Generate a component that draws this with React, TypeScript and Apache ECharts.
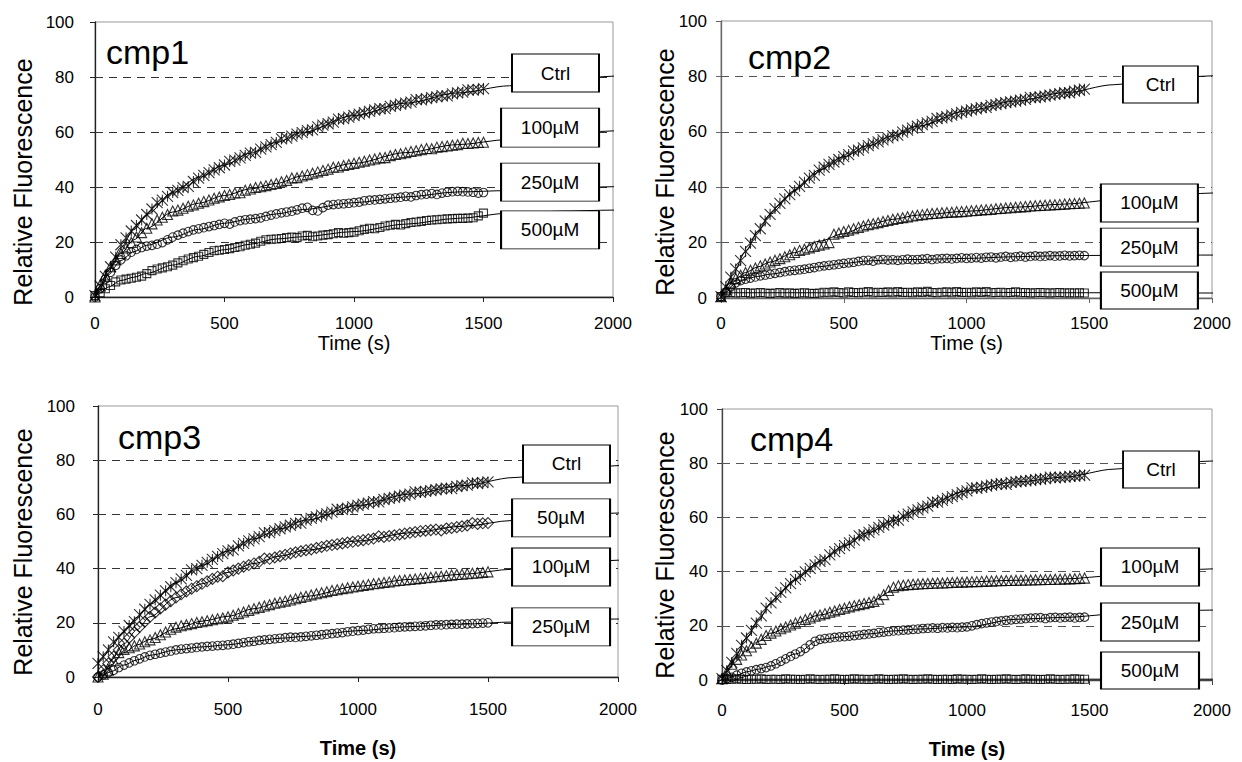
import React, { useEffect, useRef } from "react";
import * as echarts from "echarts";

// ---------- sampling times (s) ----------
const T = [0,20,40,60,80,100,120,140,160,180,200,220,240,260,280,300,320,340,360,380,400,420,440,460,480,500,520,540,560,580,600,620,640,660,680,700,720,740,760,780,800,820,840,860,880,900,920,940,960,980,1000,1020,1040,1060,1080,1100,1120,1140,1160,1180,1200,1220,1240,1260,1280,1300,1320,1340,1360,1380,1400,1420,1440,1460,1480,1500];
const FIT_T = [0,20,50,100,150,200,300,400,500,600,700,800,1000,1200,1400,1600,1800,2000,2030];
const GRID_LEVELS = [20, 40, 60, 80];
const X_TICKS = [0, 500, 1000, 1500, 2000];

// ---------- cmp1 ----------
const P1_LABELS = ["Ctrl", "100µM", "250µM", "500µM"];
const P1_CTRL = [0.5,4,7.5,11,14.5,19,21.5,24,26,28,30,32,34.3,35.2,36.6,38,38.8,39.8,40.2,42,43.2,44.2,45.2,46.2,47,48,49.3,49.8,50.6,51.5,52.3,52.6,53.8,54.6,55.4,56.2,57.5,57.8,58.5,59.2,59.8,60.5,60.8,61.9,62.5,63,63.6,64.7,64.9,65.4,66,66.5,67,67.5,68,68.5,68.5,69.3,69.7,70.1,70.5,70.9,71.8,71.7,72.1,72.5,72.8,73.2,73.1,73.9,74.2,74.5,75.3,75.2,75.5,75.8];
const P1_100 = [0,4.5,8,11,13.5,15.8,17.8,19.8,21.8,23.4,25,26.6,28,29,30,31.3,31.6,32.3,33,33.5,34.1,34.7,35.3,35.9,36.4,36.9,37.3,37.8,37.9,38.8,39.3,39.8,40.1,40.5,40.9,41.3,41.9,42.4,43.3,43.4,44,44.5,45,45.5,46,46.5,47.2,47.3,47.8,48.2,48.6,49,49.4,49.8,50.2,50.6,50.7,51.4,51.8,52.1,52.5,52.9,53.2,53.6,54,53.9,54.5,54.7,54.9,55.2,55.4,55.9,55.8,56,56.2,56.3];
const P1_250 = [0,3,6.5,9,11.5,13.5,15,16.3,17.3,18,18.5,18.8,19.2,19.8,20.8,21.8,22.5,23.2,23.8,24.4,24.8,25.2,25.6,26,26.4,26.8,26.5,27.3,27.8,28.1,28.3,28.5,28.8,29.3,29.8,30.2,30.6,30.9,31.2,31.7,32.3,32.6,31.5,31.3,32.5,33.4,33.6,33.8,33.9,34.1,34.3,34.5,35,35.2,35.3,35.5,35.7,35.9,36.1,36.3,36.6,36.4,36.9,37.2,37.4,37.6,37.3,37.8,38.1,38.3,38.4,38.3,38.2,38.1,37.8,38];
const P1_500 = [0.5,1.5,3,4.2,5.5,6.2,6.5,6.8,7.2,7.6,8.5,9.6,10.2,10.6,11,11.6,12.4,13.2,13.8,14.3,14.8,15.5,16.2,16.8,17,17.3,17.6,18,18.3,18.8,19.2,19.6,20.3,20.8,21,21.1,21.3,21.6,21.8,21.6,22.2,22.4,21.9,22.2,22.5,22.7,23,23.4,23.2,23.4,23.6,24.1,24.6,25,24.8,25.3,25.8,26.1,26.4,26.2,26.7,27.1,27.3,27.5,27.8,28,28.1,28.3,28.4,28.5,28.6,28.6,28.7,28.8,29.5,30.5];
const P1_CTRL_FIT = [0,4,9.5,18,24.5,30,38,43.5,48,52.3,56.2,59.8,66,70.5,74.2,76.8,78.8,80.3,80.5];
const P1_100_FIT = [0,4,9.5,15.8,20.8,25,30.9,34.1,36.9,39.3,41.3,44,48.6,52.5,55.4,57.3,59.1,60.4,60.5];
const P1_250_FIT = [0,3,8,13.3,16.5,18.8,21.8,24.6,26.8,28.4,30.2,31.8,34.3,36.4,38.2,38.7,39.5,40.1,40.2];
const P1_500_FIT = [0,1.5,3.6,6,7.2,8.6,11.6,14.8,17.2,19.2,21.1,21.9,23.8,26.5,28.6,30.5,31.2,31.6,31.6];

// ---------- cmp2 ----------
const P2_LABELS = ["Ctrl", "100µM", "250µM", "500µM"];
const P2_CTRL = [0.5,4,7.5,10.5,13.5,16.8,19.8,22.5,25,27.8,30.2,32.3,34.2,35.8,37.3,38.8,40.3,41.8,43.3,44.3,46.2,47.2,48.2,49.1,50,51,51.8,53,53.4,54.2,55,55.7,56.4,57.1,57.8,58.5,58.8,59.9,60.6,61.3,62,62.6,63.2,63.8,64.8,65,65.5,66,66.5,67,67.5,67.9,68.3,68.7,68.8,69.5,69.8,70.2,70.5,70.8,71.1,71.4,71.7,72.4,72.3,72.6,72.9,73.2,73.5,73.8,74.1,74.1,74.7,75,75.4];
const P2_100 = [0.5,3,5.5,7,8.2,9.2,10,10.8,11.6,12.3,13,13.6,14.2,14.9,15.6,16.4,17.2,17.6,18.1,18.6,19.1,19.5,20,23,23.5,24,24.5,25,25.5,26,26.5,26.8,27.2,27.6,28,28.4,28.7,29,29.3,29.6,29.9,30.1,30.3,30.5,30.6,30.8,30.9,31,31.1,31.2,31.3,31.5,31.6,31.8,31.9,32,32.2,32.3,32.5,32.6,32.8,32.9,33,33.2,33.3,33.4,33.5,33.6,33.7,33.8,33.9,34,34.1,34.2,34.3];
const P2_250 = [0.5,2,4,5.5,6.3,6.8,7.2,7.6,8,8.3,8.6,8.9,9.2,9.5,9.8,10,10.2,10.4,10.7,11,11.3,11.6,11.8,12,12.2,12.5,12.7,12.9,13.2,13.5,13.6,13.3,13.8,13.9,13.7,13.8,13.6,13.8,14,13.8,13.9,14,14.2,13.9,14.1,14.2,14.3,14.1,14.3,14.5,14.3,14.4,14.6,14.4,14.7,14.8,14.5,14.8,15,14.7,14.9,15.1,14.8,15,15.2,15,15.1,15.3,15.1,15.2,15.4,15.2,15.3,15.4,15.3];
const P2_500 = [0.5,1.8,2,1.8,1.9,2,1.7,1.8,2,1.8,1.6,1.8,2,1.7,1.9,1.6,1.8,1.9,1.7,1.6,1.8,2.1,1.9,2.2,2,1.8,2.2,2,1.9,2.1,2.3,1.9,2.1,2,2.2,1.9,2.3,2,2.1,1.9,2.2,2,2.4,2,1.9,2.1,2.2,1.9,2.3,2,2.1,1.9,2.2,2,2.3,1.9,2,2.1,1.9,2,2.2,1.9,2,1.8,1.9,2,1.9,1.8,1.9,2,1.8,1.9,1.8,1.9,1.8];
const P2_CTRL_FIT = [0,4,9,16.8,24,30.2,38.8,46.2,51,55,58.5,62,67.5,71.1,74.1,77,79,80.2,80.3];
const P2_100_FIT = [0,3,6,9.2,11.2,13,16.4,20.5,23.2,26.5,28.4,29.9,31.3,32.8,33.9,35.4,36.8,37.9,38];
const P2_250_FIT = [0,2,4.8,6.8,7.8,8.6,10,11.3,12.5,13.4,13.8,13.9,14.3,14.9,15.3,15.4,15.5,15.5,15.5];
const P2_500_FIT = [0.5,1.8,1.9,1.9,1.9,1.9,1.9,1.9,1.9,2,2,2,2,2,1.9,1.9,1.8,1.8,1.8];

// ---------- cmp3 ----------
const P3_LABELS = ["Ctrl", "50µM", "100µM", "250µM"];
const P3_CTRL = [5,7.5,10,13,14.6,16.8,19,20.4,23,25,26.8,28.5,30.2,31.8,33.3,34.8,36.2,37.5,39.5,40,41.2,42.3,43.4,44.5,45.5,46.5,46.9,48.4,49.3,50.2,51,51.8,53.2,53.3,54,54.7,55.4,56,56.7,56.8,57.9,58.5,59.1,59.7,60.2,60.8,61.9,61.8,62.3,62.8,63.3,63.8,64.2,64.7,64.6,65.5,65.9,66.3,66.7,67.1,67.5,68.3,68.1,68.5,68.8,69.1,69.4,69.7,69.5,70.3,70.6,70.8,71.6,71.4,71.7,72];
const P3_50 = [0,2.5,5,7.5,10,12.3,14.5,16.5,18.5,20.4,22.2,23.8,25.3,26.7,28,29.3,30.5,31.6,32.6,33.5,34.4,35.3,36.2,37,37.2,38.6,39.3,40,40.7,41.3,41.9,42.5,43.7,43.6,44.1,44.6,45.1,45.6,46,46.4,46.8,47.1,47.6,48,48.4,48.7,49,49.3,49.6,49.9,50.2,50.5,50.8,51.1,51.9,51.7,52,52.3,52.6,52.9,53.2,53.5,53.8,54,54.2,54.4,54.1,54.8,55,55.3,55.6,55.9,56.8,56.5,56.7,56.8];
const P3_100 = [0,1,2.5,6,9,10.2,10.8,11.5,12.2,13,13.7,14.6,15.6,16.6,17.6,18.4,18.9,19.3,19.7,20.1,20.4,20.8,21.1,21.5,21.8,22.2,22.8,23.4,24,24.6,25.2,25.7,26.2,26.7,27.2,27.6,28,28.4,28.9,29.4,29.8,30.3,30.7,31.1,31.5,31.9,32.2,32.6,32.9,33.2,33.5,33.8,34.1,34.4,34.6,34.9,35.1,35.4,35.6,35.8,36,36.2,36.4,36.6,36.8,37,37.2,37.4,37.6,37.8,37.9,38.1,38.3,38.4,38.6,38.8];
const P3_250 = [0,0.8,1.6,2.5,3.5,4.4,5.2,6,6.7,7.4,8,8.4,8.8,9.2,9.6,10,10.3,10.5,10.7,10.9,11.1,11.3,11.4,11.6,11.7,11.9,12.1,12.4,12.7,13,13.2,13.5,13.7,13.9,14.1,14.3,14.5,14.7,14.6,14.8,15,15.2,15.4,15.6,15.8,16,16.2,16.4,16.7,16.9,17.1,17.3,17.6,17.8,17.9,18,18.1,18.2,18.4,18.5,18.6,18.7,18.8,18.9,19.1,19.2,19.2,19.3,19.4,19.5,19.5,19.6,19.7,19.8,19.9,20];
const P3_CTRL_FIT = [5,7.5,11.2,16.8,22,26.8,34.8,41.2,46.5,51,54.7,57.9,63.3,67.5,70.6,73.6,76.3,78,78.2];
const P3_50_FIT = [0,2.5,6.2,12.3,17.5,22.2,29.3,34.4,38.6,41.9,44.6,46.8,50.2,53.2,55.6,57.8,59.5,60.5,60.6];
const P3_100_FIT = [0,1.5,4.5,9,11.8,13.9,17.8,20.6,22.4,25.2,27.6,29.8,33.5,36,37.9,39.8,41.8,43.1,43.2];
const P3_250_FIT = [0,0.8,2,4.4,6.3,8,10,11.1,11.9,13.2,14.3,15,17.1,18.6,19.5,20.3,21,21.4,21.4];

// ---------- cmp4 ----------
const P4_LABELS = ["Ctrl", "100µM", "250µM", "500µM"];
const P4_CTRL = [0.5,3.5,6.5,9.8,12.8,15.5,18.3,21,23.7,26.5,28.5,30.5,32.3,34,35.6,37.1,38.5,39.9,41.2,42.5,43.8,44.4,46.2,47.4,48.5,49.6,50.6,51.6,53.2,53.6,54.5,55.4,56.3,57.2,58,58.8,59,60.4,61.2,62,62.8,63.5,64.2,65.5,65.6,66.3,67,67.7,68.4,69.1,69.8,70.9,70.7,71.1,71.5,71.9,72.2,72.5,72.2,72.9,73.1,73.3,73.5,73.7,73.9,74.1,74.3,74.9,74.6,74.8,74.9,75.1,75.2,75.4,75.6];
const P4_100 = [0.5,3,5.8,7.6,9.2,10.8,12.2,13.6,15,16.4,17.3,18.1,18.9,19.6,20.3,21,21.6,22.3,22.9,23.5,24,24.5,25,25.5,26,26.5,27,27.4,27.8,28.2,28.6,29,29.8,31.5,33,34.2,34.8,35,35.2,35.3,35.4,35.5,35.6,35.7,35.8,35.8,35.9,36,36.1,36.1,36.2,36.3,36.3,36.4,36.5,36.5,36.6,36.6,36.7,36.7,36.8,36.8,36.9,36.9,37,37,37.1,37.1,37.2,37.2,37.3,37.3,37.4,37.5,37.6];
const P4_250 = [0,0.5,1,1.8,2.5,3,3.4,3.8,4.2,4.6,5.2,6,6.9,7.8,8.7,9.6,10.5,11.7,13,14.3,15,15.3,15.5,15.7,15.9,16,16.2,16.4,16.6,16.8,17,17.2,17.5,17.7,17.9,18.1,18.2,18.4,18.5,18.7,18.8,19,19.1,19.2,19.1,19.3,19.2,19.4,19.3,19.5,19.6,20,20.4,20.8,21.1,21.4,21.6,21.8,22,22.2,22.4,22.5,22.7,22.8,22.9,23,22.7,23,23.1,22.9,23.1,23.2,22.9,23.1,23.2];
const P4_500 = [0.3,0.2,0.3,0.4,0.3,0.2,0.3,0.3,0.4,0.2,0.3,0.3,0.2,0.4,0.3,0.3,0.2,0.3,0.4,0.3,0.2,0.3,0.3,0.4,0.3,0.2,0.3,0.4,0.3,0.3,0.2,0.3,0.4,0.3,0.2,0.3,0.3,0.4,0.3,0.2,0.3,0.3,0.4,0.3,0.2,0.3,0.3,0.2,0.4,0.3,0.3,0.2,0.3,0.4,0.3,0.2,0.3,0.3,0.4,0.3,0.2,0.3,0.4,0.3,0.3,0.2,0.3,0.4,0.3,0.2,0.3,0.3,0.4,0.3,0.3];
const P4_CTRL_FIT = [0,3.5,8,15.5,22.3,28.5,37.1,43.8,49.6,54.5,58.8,62.8,69.8,73.1,74.9,77.8,79.7,80.8,80.9];
const P4_100_FIT = [0,3,6.5,10.8,14.3,17.3,21,24,26.5,28.6,33,35.4,36.2,36.8,37.3,38.5,40,41,41];
const P4_250_FIT = [0,0.5,1.4,3,4,5.2,9.6,15,16,17,18.1,18.8,19.6,22.4,23.1,24.3,25.3,25.8,25.8];
const P4_500_FIT = [0.3,0.3,0.3,0.3,0.3,0.3,0.3,0.3,0.3,0.3,0.3,0.3,0.3,0.3,0.3,0.3,0.3,0.3,0.3];

// ---------- styling / layout ----------
const FONT = "'Liberation Sans', Arial, Helvetica, sans-serif";
const Y_TITLE = "Relative Fluorescence";
const X_TITLE = "Time (s)";
const STAR = "path://M0 0L10 10M10 0L0 10M5 0L5 10";
const MARK = {
  ctrl: { symbol: STAR, size: 11 },
  tri: { symbol: "triangle", size: 10 },
  circ: { symbol: "circle", size: 8.5 },
  sq: { symbol: "rect", size: 8 },
  dia: { symbol: "diamond", size: 11 },
};

const PANELS = [
  {
    title: "cmp1", titlePos: { left: 106, top: 35 }, yTitlePos: [23, 182],
    grid: { left: 95, top: 22, width: 518, height: 275 },
    yLabelMargin: 21, xLabelMargin: 18, xNameGap: 34, bold: false,
    axisColor: "#222", gridColor: "#333",
    curves: [
      { data: P1_CTRL, fit: P1_CTRL_FIT, mark: MARK.ctrl },
      { data: P1_100, fit: P1_100_FIT, mark: MARK.tri },
      { data: P1_250, fit: P1_250_FIT, mark: MARK.circ },
      { data: P1_500, fit: P1_500_FIT, mark: MARK.sq },
    ],
    labels: P1_LABELS,
    boxes: [[1778, 81.45, 87, 38], [1757, 61.6, 98, 39], [1757, 41.8, 98, 38], [1757, 24.4, 98, 38]],
  },
  {
    title: "cmp2", titlePos: { left: 748, top: 40 }, yTitlePos: [665, 172],
    grid: { left: 721, top: 21, width: 491, height: 277 },
    yLabelMargin: 14, xLabelMargin: 17, xNameGap: 34, bold: false,
    axisColor: "#666", gridColor: "#555",
    curves: [
      { data: P2_CTRL, fit: P2_CTRL_FIT, mark: MARK.ctrl },
      { data: P2_100, fit: P2_100_FIT, mark: MARK.tri },
      { data: P2_250, fit: P2_250_FIT, mark: MARK.circ },
      { data: P2_500, fit: P2_500_FIT, mark: MARK.sq },
    ],
    labels: P2_LABELS,
    boxes: [[1790, 77.1, 75, 37], [1745, 34.3, 97, 38], [1745, 18.4, 97, 38], [1745, 2.7, 97, 37]],
  },
  {
    title: "cmp3", titlePos: { left: 118, top: 420 }, yTitlePos: [23, 552],
    grid: { left: 98, top: 406, width: 520, height: 271 },
    yLabelMargin: 23, xLabelMargin: 24, xNameGap: 61, bold: true,
    axisColor: "#222", gridColor: "#333",
    curves: [
      { data: P3_CTRL, fit: P3_CTRL_FIT, mark: MARK.ctrl },
      { data: P3_50, fit: P3_50_FIT, mark: MARK.dia },
      { data: P3_100, fit: P3_100_FIT, mark: MARK.tri },
      { data: P3_250, fit: P3_250_FIT, mark: MARK.circ },
    ],
    labels: P3_LABELS,
    boxes: [[1802, 78.6, 87, 38], [1781, 58.7, 98, 38], [1781, 40.6, 98, 38], [1781, 18.5, 98, 38]],
  },
  {
    title: "cmp4", titlePos: { left: 750, top: 422 }, yTitlePos: [665, 555],
    grid: { left: 722, top: 409, width: 490, height: 271 },
    yLabelMargin: 14, xLabelMargin: 22, xNameGap: 59, bold: true,
    axisColor: "#444", gridColor: "#555",
    curves: [
      { data: P4_CTRL, fit: P4_CTRL_FIT, mark: MARK.ctrl },
      { data: P4_100, fit: P4_100_FIT, mark: MARK.tri },
      { data: P4_250, fit: P4_250_FIT, mark: MARK.circ },
      { data: P4_500, fit: P4_500_FIT, mark: MARK.sq },
    ],
    labels: P4_LABELS,
    boxes: [[1792, 77.7, 76, 37], [1747, 41.7, 98, 38], [1747, 21.4, 98, 38], [1747, 3.5, 98, 37]],
  },
];

function buildOption() {
  const grid: any[] = [];
  const xAxis: any[] = [];
  const yAxis: any[] = [];
  const title: any[] = [];
  const series: any[] = [];
  const graphic: any[] = [];

  PANELS.forEach((p, i) => {
    grid.push({ ...p.grid, show: true, borderColor: "#999", borderWidth: 1, backgroundColor: "transparent", containLabel: false });
    title.push({
      text: p.title, left: p.titlePos.left, top: p.titlePos.top, padding: 0,
      textStyle: { fontFamily: FONT, fontSize: 34, fontWeight: "normal", color: "#000" },
    });
    graphic.push({
      type: "text", x: p.yTitlePos[0], y: p.yTitlePos[1], rotation: Math.PI / 2, silent: true,
      style: {
        text: Y_TITLE, fill: "#000", font: `25px ${FONT}`,
        textAlign: "center", textVerticalAlign: "middle", align: "center", verticalAlign: "middle",
      },
    });
    xAxis.push({
      type: "value", gridIndex: i, min: X_TICKS[0], max: X_TICKS[X_TICKS.length - 1], interval: 500,
      name: X_TITLE, nameLocation: "middle", nameGap: p.xNameGap,
      nameTextStyle: { fontFamily: FONT, fontSize: 20, color: "#000", fontWeight: p.bold ? "bold" : "normal" },
      axisLine: { show: true, lineStyle: { color: p.axisColor, width: 1.3 } },
      axisTick: { show: true, inside: false, length: 5, lineStyle: { color: p.axisColor } },
      axisLabel: { fontFamily: FONT, fontSize: 17, color: "#000", margin: p.xLabelMargin, formatter: (v: number) => String(v) },
      splitLine: { show: false },
    });
    yAxis.push({
      type: "value", gridIndex: i, min: 0, max: 100, interval: 20,
      axisLine: { show: true, lineStyle: { color: p.axisColor, width: 1.3 } },
      axisTick: { show: true, inside: false, length: 5, lineStyle: { color: p.axisColor } },
      axisLabel: { fontFamily: FONT, fontSize: 17, color: "#000", margin: p.yLabelMargin, padding: [7, 0, 0, 0] },
      splitLine: { show: false },
    });

    p.curves.forEach((c, k) => {
      series.push({
        type: "line", xAxisIndex: i, yAxisIndex: i, silent: true, clip: false,
        data: FIT_T.map((t, j) => [t, c.fit[j]]),
        smooth: 0.3, smoothMonotone: "x", showSymbol: false, symbol: "none",
        lineStyle: { color: "#000", width: 1 }, z: 2,
        markLine: k === 0 ? {
          silent: true, symbol: ["none", "none"], label: { show: false },
          lineStyle: { type: [8, 6], color: p.gridColor, width: 1 },
          data: GRID_LEVELS.map((v) => ({ yAxis: v })), z: 1,
        } : undefined,
      });
      series.push({
        type: "scatter", xAxisIndex: i, yAxisIndex: i, silent: true,
        data: c.data.map((v, j) => [T[j], v]),
        symbol: c.mark.symbol, symbolSize: c.mark.size,
        itemStyle: { color: "rgba(0,0,0,0)", borderColor: "#000", borderWidth: 1.1 },
        z: 3,
      });
    });

    series.push({
      type: "scatter", xAxisIndex: i, yAxisIndex: i, silent: true, clip: false, z: 10,
      symbol: "rect",
      data: p.labels.map((name, k) => ({
        name, value: [p.boxes[k][0], p.boxes[k][1]], symbolSize: [p.boxes[k][2], p.boxes[k][3]],
      })),
      itemStyle: { color: "#fff", borderColor: "#000", borderWidth: 1.3, opacity: 1 },
      label: { show: true, position: "inside", formatter: "{b}", fontFamily: FONT, fontSize: 19, color: "#000" },
    });
  });

  return { animation: false, backgroundColor: "#fff", title, grid, xAxis, yAxis, series, graphic };
}

export default function App() {
  const ref = useRef<HTMLDivElement>(null);
  useEffect(() => {
    const chart = echarts.init(ref.current!, null, { renderer: "svg" });
    chart.setOption(buildOption() as any);
    return () => chart.dispose();
  }, []);
  return (
    <div
      ref={ref}
      style={{ position: "absolute", left: 0, top: 0, width: 1242, height: 762, background: "#fff" }}
    />
  );
}
